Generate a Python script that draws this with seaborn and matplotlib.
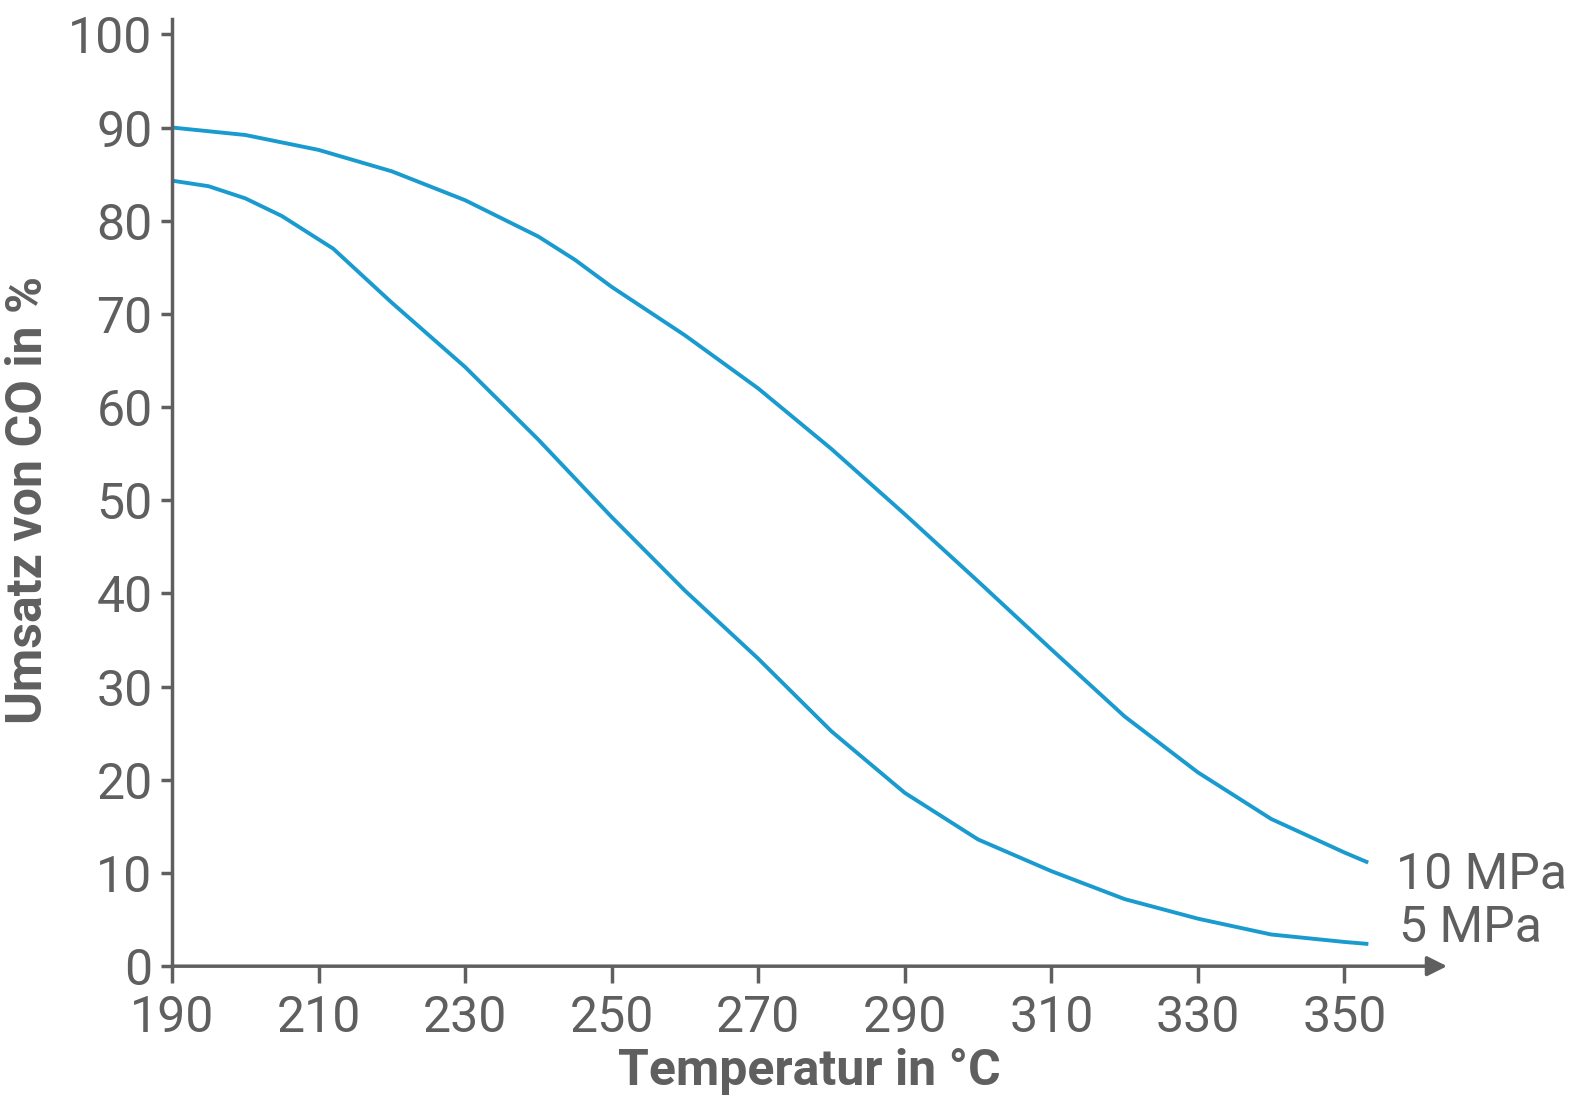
import matplotlib
matplotlib.use("Agg")
import matplotlib.pyplot as plt
import seaborn as sns
import pandas as pd

t_10 = [190, 200, 210, 220, 230, 240, 245, 250, 260, 270, 280, 290, 300, 310, 320, 330, 340, 350, 353]
u_10 = [90.0, 89.2, 87.6, 85.3, 82.2, 78.3, 75.8, 72.9, 67.7, 62.0, 55.5, 48.5, 41.3, 34.0, 26.8, 20.8, 15.8, 12.2, 11.2]
t_5 = [190, 195, 200, 205, 208, 212, 220, 230, 240, 250, 260, 270, 280, 290, 300, 310, 320, 330, 340, 350, 353]
u_5 = [84.3, 83.7, 82.4, 80.5, 79.0, 77.0, 71.2, 64.3, 56.5, 48.2, 40.3, 33.0, 25.2, 18.6, 13.6, 10.2, 7.2, 5.1, 3.4, 2.6, 2.4]
xticks = [190, 210, 230, 250, 270, 290, 310, 330, 350]
yticks = [0, 10, 20, 30, 40, 50, 60, 70, 80, 90, 100]

grey = "#5f5f5f"
blue = "#1a9bcf"
plt.rcParams["font.family"] = "Roboto"

df = pd.concat([
    pd.DataFrame({"T": t_10, "U": u_10, "p": "10 MPa"}),
    pd.DataFrame({"T": t_5, "U": u_5, "p": "5 MPa"}),
])

fig = plt.figure(figsize=(15.78, 11.08), dpi=100)
ax = fig.add_axes([0.109, 0.128, 0.808, 0.841])
sns.lineplot(data=df, x="T", y="U", units="p", estimator=None, color=blue, lw=2.8, ax=ax, legend=False)
ax.set_xlim(190, 364)
ax.set_ylim(0, 100)
for s in ["top", "right", "bottom"]:
    ax.spines[s].set_visible(False)
ax.spines["left"].set_color(grey)
ax.spines["left"].set_linewidth(2.5)
ax.spines["left"].set_bounds(0, 101.7)
ax.annotate("", xy=(364, 0), xytext=(190, 0), xycoords="data",
            arrowprops=dict(arrowstyle="-|>,head_length=1.2,head_width=0.6", color=grey, lw=2.5, shrinkA=0, shrinkB=0),
            annotation_clip=False)
ax.set_xticks(xticks)
ax.set_yticks(yticks)
ax.tick_params(colors=grey, labelsize=36, width=2.5)
ax.tick_params(axis="x", direction="out", length=12, pad=8)
ax.tick_params(axis="y", direction="out", length=8, pad=6)
ax.set_xlabel("Temperatur in °C", fontsize=36, fontweight="bold", color=grey, labelpad=4)
ax.set_ylabel("Umsatz von CO in %", fontsize=36, fontweight="bold", color=grey, labelpad=12)
ax.text(357, 9.8, "10 MPa", fontsize=36, color=grey, va="center", ha="left", clip_on=False)
ax.text(357.5, 4.1, "5 MPa", fontsize=36, color=grey, va="center", ha="left", clip_on=False)
fig.savefig("out.png", dpi=100)
